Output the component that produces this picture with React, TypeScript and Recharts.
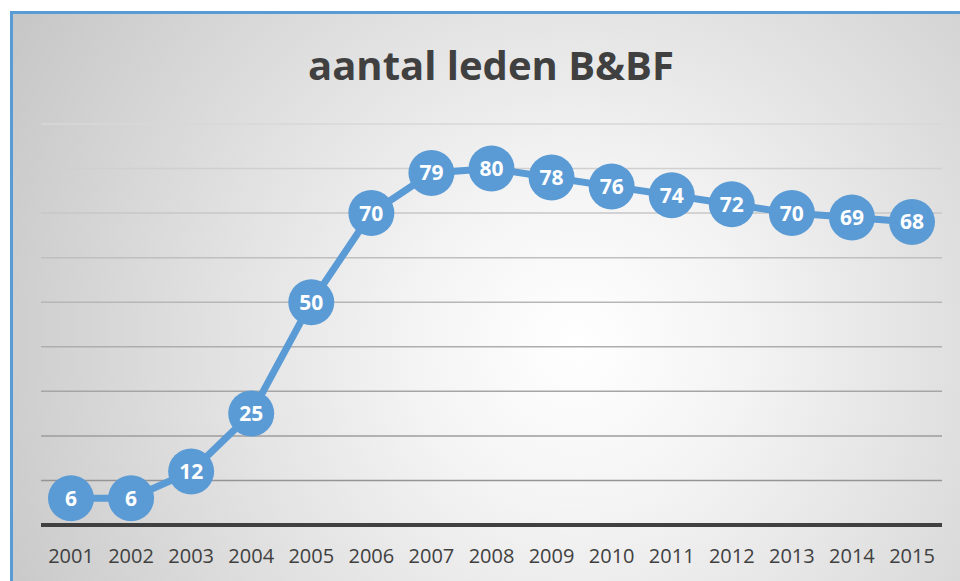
import { LineChart, Line, XAxis, YAxis, CartesianGrid, LabelList } from "recharts";

const years = [
  "2001", "2002", "2003", "2004", "2005", "2006", "2007", "2008",
  "2009", "2010", "2011", "2012", "2013", "2014", "2015",
];
const members = [6, 6, 12, 25, 50, 70, 79, 80, 78, 76, 74, 72, 70, 69, 68];
const yTicks = [0, 10, 20, 30, 40, 50, 60, 70, 80, 90];

const data = years.map((year, i) => ({ year, leden: members[i] }));

const BLUE = "#5b9bd5";
const FONT = "'Open Sans', 'Noto Sans', sans-serif";

const Dot = (props: any) => {
  const { cx, cy } = props;
  if (cx == null || cy == null) return null;
  return <circle cx={cx} cy={cy} r={23} fill={BLUE} />;
};

export default function App() {
  return (
    <div
      style={{
        position: "absolute",
        left: 0,
        top: 0,
        width: 960,
        height: 581,
        overflow: "hidden",
        background: "#fff",
        fontFamily: FONT,
      }}
    >
      <div
        style={{
          position: "absolute",
          left: 10,
          top: 11,
          width: 990,
          height: 600,
          borderTop: `3px solid ${BLUE}`,
          borderLeft: `3px solid ${BLUE}`,
          background:
            "radial-gradient(circle farthest-corner at 57% 55%, #ffffff 0%, #f4f4f4 25%, #c6c6c6 100%)",
        }}
      />
      <div
        style={{
          position: "absolute",
          left: 0,
          width: 982,
          top: 38,
          textAlign: "center",
          fontSize: 40,
          fontWeight: 700,
          color: "#404040",
          lineHeight: "54px",
        }}
      >
        aantal leden B&amp;BF
      </div>
      <div style={{ position: "absolute", left: 0, top: 0 }}>
        <LineChart
          width={960}
          height={581}
          data={data}
          margin={{ top: 124, right: 18, bottom: 26, left: 41 }}
        >
          <defs>
            <linearGradient id="gridFade" x1="0" y1="124" x2="0" y2="525" gradientUnits="userSpaceOnUse">
              <stop offset="0%" stopColor="#d8d8d8" />
              <stop offset="100%" stopColor="#8c8c8c" />
            </linearGradient>
          </defs>
          <CartesianGrid vertical={false} stroke="url(#gridFade)" strokeWidth={1.5} />
          <YAxis hide domain={[0, 90]} ticks={yTicks} />
          <XAxis
            dataKey="year"
            height={30}
            padding={{ left: 30, right: 30 }}
            axisLine={{ stroke: "#404040", strokeWidth: 4 }}
            tickLine={false}
            tick={{ fill: "#404040", fontSize: 20, fontFamily: FONT }}
            tickMargin={18}
            interval={0}
          />
          <Line
            type="linear"
            dataKey="leden"
            stroke={BLUE}
            strokeWidth={7}
            dot={<Dot />}
            activeDot={false}
            isAnimationActive={false}
          >
            <LabelList
              dataKey="leden"
              position="center"
              fill="#ffffff"
              fontSize={21}
              fontWeight={700}
              fontFamily={FONT}
            />
          </Line>
        </LineChart>
      </div>
    </div>
  );
}
